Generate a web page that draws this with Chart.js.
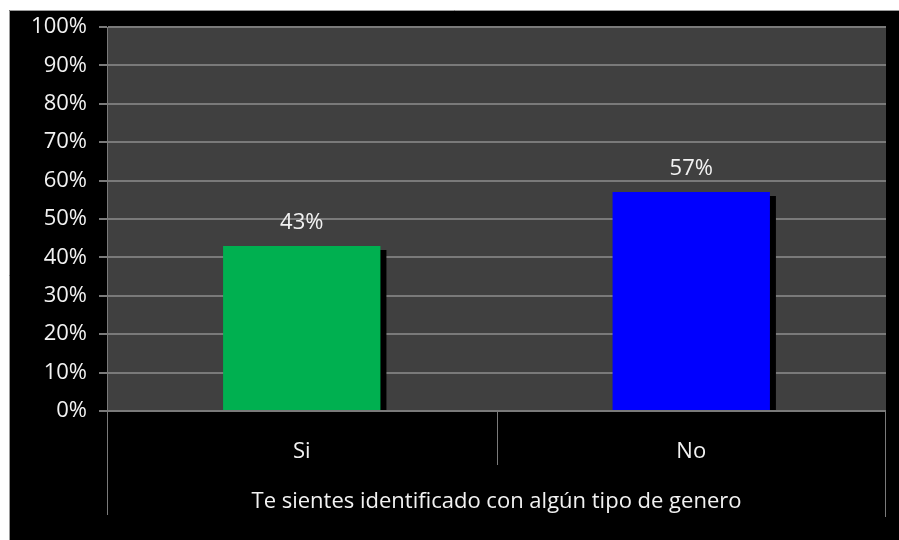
<!DOCTYPE html>
<html>
<head>
<meta charset="utf-8">
<script src="https://cdn.jsdelivr.net/npm/chart.js@4/dist/chart.umd.min.js"></script>
<style>
  html, body { margin: 0; padding: 0; background: #fff; }
  canvas { display: block; }
</style>
</head>
<body>
<canvas id="chart" width="899" height="540"></canvas>
<script>
// Chart data
const categories = ['Si', 'No'];
const percentages = [43, 57];
const barColors = ['#00b050', '#0000ff'];
const axisTitle = 'Te sientes identificado con algún tipo de genero';

const FONT = '"Open Sans", "DejaVu Sans", sans-serif';
const TEXT_COLOR = '#f2f2f2';
const LINE_COLOR = '#7a7a7a';

// Black frame and dark plot area
const backgroundPlugin = {
    id: 'background',
    beforeDraw(chart) {
        const ctx = chart.ctx;
        const area = chart.chartArea;
        ctx.save();
        ctx.fillStyle = '#ffffff';
        ctx.fillRect(0, 0, chart.width, chart.height);
        ctx.fillStyle = '#000000';
        ctx.fillRect(9, 10, chart.width - 9, chart.height - 10);
        ctx.strokeStyle = '#9a9a9a';
        ctx.lineWidth = 1;
        ctx.beginPath();
        ctx.moveTo(9.5, chart.height);
        ctx.lineTo(9.5, 10.5);
        ctx.lineTo(chart.width, 10.5);
        ctx.stroke();
        ctx.fillStyle = '#404040';
        ctx.fillRect(area.left, area.top, area.right - area.left, area.bottom - area.top);
        ctx.restore();
    }
};

// Hard black shadow behind bars (kept inside the plot area)
const shadowPlugin = {
    id: 'barShadow',
    beforeDatasetsDraw(chart) {
        const ctx = chart.ctx;
        const area = chart.chartArea;
        ctx.save();
        ctx.beginPath();
        ctx.rect(area.left, area.top, area.right - area.left, area.bottom - area.top - 1);
        ctx.clip();
        ctx.shadowColor = '#000000';
        ctx.shadowOffsetX = 6;
        ctx.shadowOffsetY = 4;
        ctx.shadowBlur = 0;
    },
    afterDatasetsDraw(chart) {
        chart.ctx.restore();
    }
};

// Value labels above the bars
const valueLabelPlugin = {
    id: 'valueLabels',
    afterDatasetsDraw(chart) {
        const ctx = chart.ctx;
        const meta = chart.getDatasetMeta(0);
        ctx.save();
        ctx.fillStyle = TEXT_COLOR;
        ctx.font = '22px ' + FONT;
        ctx.textAlign = 'center';
        ctx.textBaseline = 'bottom';
        meta.data.forEach((bar, i) => {
            ctx.fillText(percentages[i] + '%', bar.x, bar.y - 12);
        });
        ctx.restore();
    }
};

// Excel-style category axis box lines
const categoryLinesPlugin = {
    id: 'categoryLines',
    afterDraw(chart) {
        const ctx = chart.ctx;
        const area = chart.chartArea;
        const x = chart.scales.x;
        const mid = (x.getPixelForValue(0) + x.getPixelForValue(1)) / 2;
        ctx.save();
        ctx.strokeStyle = LINE_COLOR;
        ctx.lineWidth = 1;
        ctx.beginPath();
        ctx.moveTo(area.left, area.bottom + 0.5);
        ctx.lineTo(area.right, area.bottom + 0.5);
        ctx.moveTo(area.left + 0.5, area.bottom);
        ctx.lineTo(area.left + 0.5, 515);
        ctx.moveTo(Math.round(mid) + 0.5, area.bottom);
        ctx.lineTo(Math.round(mid) + 0.5, 465);
        ctx.moveTo(area.right - 0.5, area.bottom);
        ctx.lineTo(area.right - 0.5, 517);
        ctx.stroke();
        ctx.restore();
    }
};

new Chart(document.getElementById('chart'), {
    type: 'bar',
    data: {
        labels: categories,
        datasets: [{
            data: percentages,
            backgroundColor: barColors,
            borderWidth: 0,
            categoryPercentage: 1,
            barPercentage: 0.404
        }]
    },
    options: {
        responsive: false,
        animation: false,
        devicePixelRatio: 1,
        layout: { padding: { top: 27, right: 13, left: 0, bottom: 0 } },
        plugins: {
            legend: { display: false },
            tooltip: { enabled: false }
        },
        scales: {
            y: {
                min: 0,
                max: 100,
                afterFit: scale => { scale.width = 107; },
                ticks: {
                    stepSize: 10,
                    callback: v => v + '%',
                    color: TEXT_COLOR,
                    font: { family: FONT, size: 22 },
                    padding: 12
                },
                grid: { color: LINE_COLOR, lineWidth: 2, tickLength: 8 },
                border: { display: true, color: LINE_COLOR, width: 1 }
            },
            x: {
                afterFit: scale => { scale.height = 129; },
                grid: { display: false },
                border: { display: false },
                ticks: {
                    color: TEXT_COLOR,
                    font: { family: FONT, size: 22 },
                    padding: 20
                },
                title: {
                    display: true,
                    text: axisTitle,
                    color: TEXT_COLOR,
                    font: { family: FONT, size: 22 },
                    padding: { top: 0, bottom: 25 }
                }
            }
        }
    },
    plugins: [backgroundPlugin, shadowPlugin, valueLabelPlugin, categoryLinesPlugin]
});
</script>
</body>
</html>
